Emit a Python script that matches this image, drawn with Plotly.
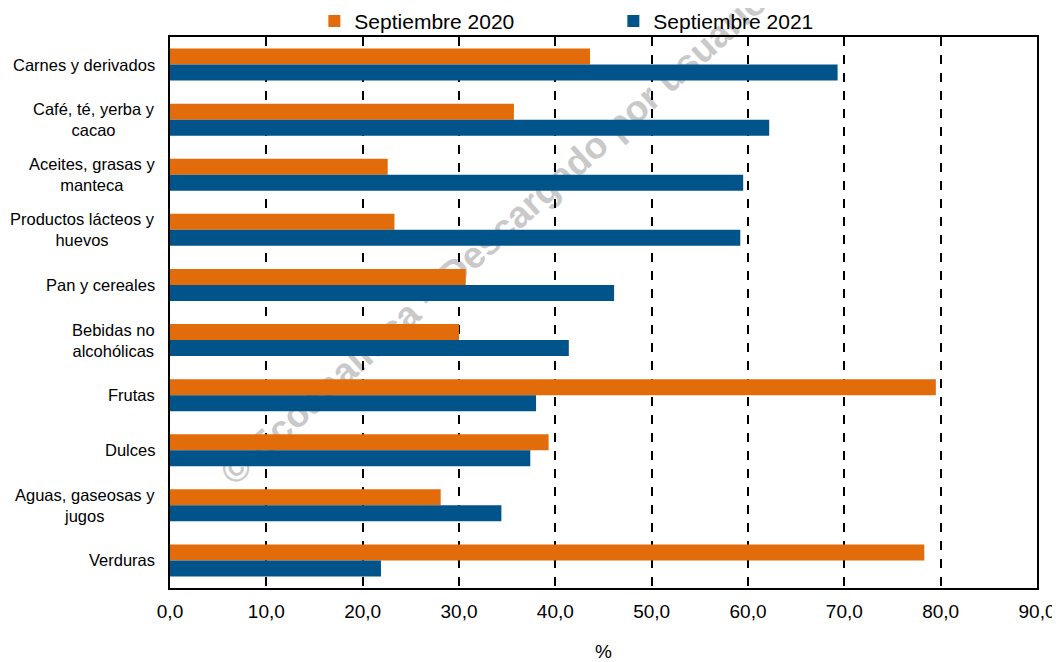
import plotly.graph_objects as go

categories = [
    "Carnes y derivados",
    "Café, té, yerba y<br>cacao",
    "Aceites, grasas y<br>manteca",
    "Productos lácteos y<br>huevos",
    "Pan y cereales",
    "Bebidas no<br>alcohólicas",
    "Frutas",
    "Dulces",
    "Aguas, gaseosas y<br>jugos",
    "Verduras",
]
sep_2020 = [43.6, 35.7, 22.6, 23.3, 30.7, 30.0, 79.5, 39.3, 28.1, 78.3]
sep_2021 = [69.3, 62.2, 59.5, 59.2, 46.1, 41.4, 38.0, 37.4, 34.4, 21.9]
x_ticks = [0, 10, 20, 30, 40, 50, 60, 70, 80, 90]
x_tick_labels = ["0,0", "10,0", "20,0", "30,0", "40,0", "50,0", "60,0", "70,0", "80,0", "90,0"]
watermark = "© Ecoanalítica – Descargado por usuario"

ORANGE = "#E36C0A"
BLUE = "#00548A"
FONT = "Liberation Sans, Arial, sans-serif"

fig = go.Figure()
fig.add_trace(go.Bar(
    y=categories, x=sep_2020, orientation="h", name="Septiembre 2020",
    marker=dict(color=ORANGE, line=dict(width=0)),
))
fig.add_trace(go.Bar(
    y=categories, x=sep_2021, orientation="h", name="Septiembre 2021",
    marker=dict(color=BLUE, line=dict(width=0)),
))

annotations = []
for c in categories:
    annotations.append(dict(
        x=0, xref="paper", y=c, yref="y", text=c, showarrow=False,
        xanchor="right", xshift=-13, align="center",
        font=dict(family=FONT, size=16.5, color="#000000"),
    ))

# watermark drawn beneath bars and gridlines
fig.add_shape(
    type="line", xref="paper", yref="paper",
    x0=0.0811, y0=0.1725, x1=0.691, y1=1.047,
    line=dict(color="rgba(0,0,0,0)", width=0),
    layer="below",
    label=dict(
        text=watermark, textposition="middle", textangle=-42,
        font=dict(family=FONT, size=37, color="#c9c9c9", weight="bold"),
    ),
)

fig.update_layout(
    width=1052, height=654,
    margin=dict(l=162, r=23, t=29, b=74, autoexpand=False),
    paper_bgcolor="white", plot_bgcolor="rgba(0,0,0,0)",
    barmode="group", bargap=0.42, bargroupgap=0,
    font=dict(family=FONT, size=19, color="#000000"),
    showlegend=True,
    legend=dict(
        orientation="h", x=0.1665, xanchor="left", y=0.991, yanchor="bottom",
        entrywidth=254, entrywidthmode="pixels",
        font=dict(family=FONT, size=21, color="#000000"),
        bgcolor="rgba(0,0,0,0)", traceorder="normal",
    ),
    annotations=annotations,
)
fig.update_xaxes(
    range=[0, 90], tickvals=x_ticks, ticktext=x_tick_labels,
    showgrid=True, gridcolor="#000000", gridwidth=1.5, griddash="dash",
    zeroline=False, showline=True, linecolor="#000000", linewidth=1.5, mirror=True,
    ticks="", ticklabelstandoff=5, automargin=False,
    tickfont=dict(family=FONT, size=19, color="#000000"),
    title=dict(text="%", standoff=38, font=dict(family=FONT, size=19, color="#000000")),
)
fig.update_yaxes(
    autorange="reversed", showticklabels=False, ticks="", automargin=False,
    showgrid=False, zeroline=False,
    showline=True, linecolor="#000000", linewidth=1.5, mirror=True,
)

fig.write_html("out.html")
